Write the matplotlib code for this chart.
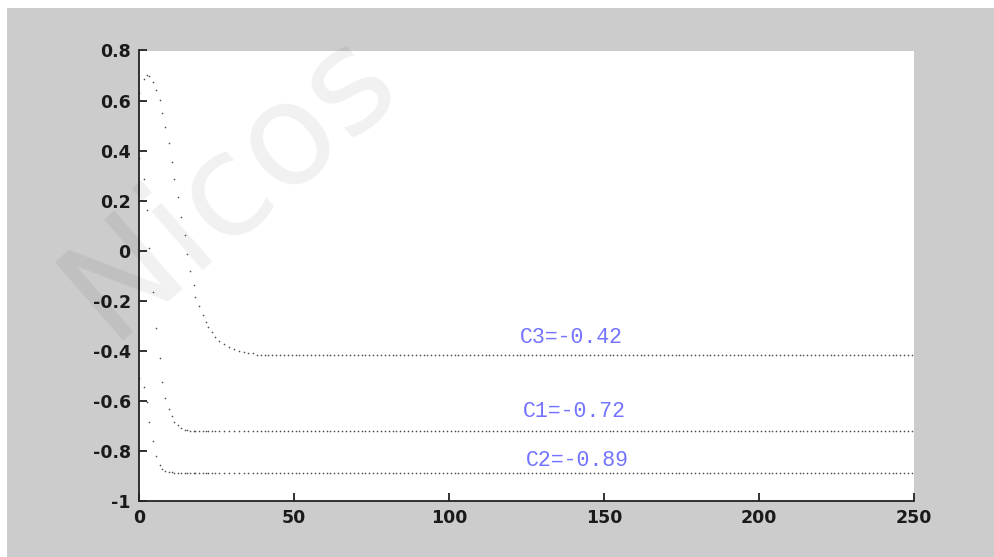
import numpy as np
import matplotlib
matplotlib.use("Agg")
import matplotlib.pyplot as plt
from matplotlib.patches import Rectangle

# time grid of the transient part
t_early = [0, 1.5, 2.7, 3.3, 4.4, 5.6, 6.8, 7.3, 8.5, 9.7, 10.7, 11.3, 12.5,
           13.5, 14.8, 15.4, 16.5, 17.7, 18.2, 19.4, 20.6, 21.7, 22.3, 23.5,
           24.6, 25.8, 27.4, 29.0, 30.6, 32.3, 33.9, 35.3, 36.7]

c3_early = [0.63, 0.687, 0.704, 0.697, 0.676, 0.644, 0.603, 0.551, 0.493,
            0.430, 0.355, 0.287, 0.214, 0.136, 0.063, -0.013, -0.080, -0.138,
            -0.185, -0.222, -0.259, -0.286, -0.307, -0.327, -0.346, -0.360,
            -0.375, -0.387, -0.395, -0.402, -0.407, -0.409, -0.410]

c1_early = [0.37, 0.287, 0.161, 0.010, -0.164, -0.311, -0.431, -0.525, -0.589,
            -0.632, -0.663, -0.684, -0.699, -0.711, -0.716, -0.717, -0.720,
            -0.722, -0.722, -0.722, -0.722, -0.722, -0.722, -0.722, -0.722,
            -0.722, -0.722, -0.722, -0.722, -0.722, -0.722, -0.722, -0.722]

c2_early = [-0.511, -0.547, -0.605, -0.684, -0.762, -0.821, -0.857, -0.873,
            -0.881, -0.885, -0.886, -0.889, -0.889, -0.889, -0.889, -0.889,
            -0.889, -0.889, -0.889, -0.889, -0.889, -0.889, -0.889, -0.889,
            -0.889, -0.889, -0.889, -0.889, -0.889, -0.889, -0.889, -0.889,
            -0.889]

# steady values reached after the transient
steady = {"C1": -0.72, "C2": -0.89, "C3": -0.42}
steady_plot = {"C1": -0.7226, "C2": -0.889, "C3": -0.416}
label_pos = {"C3": (139.3, -0.349), "C1": (140.3, -0.642), "C2": (141.2, -0.838)}

x_ticks = [0, 50, 100, 150, 200, 250]
y_ticks = [0.8, 0.6, 0.4, 0.2, 0, -0.2, -0.4, -0.6, -0.8, -1]
y_tick_labels = ["0.8", "0.6", "0.4", "0.2", "0", "-0.2", "-0.4", "-0.6", "-0.8", "-1"]

t_tail = np.arange(38.0, 250.01, 1.25)

W, H = 995, 557
fig = plt.figure(figsize=(W / 100, H / 100), dpi=100)
fig.patch.set_facecolor("white")
fig.patches.append(Rectangle((7 / W, 0), 1 - 7 / W, 1 - 8 / H,
                             transform=fig.transFigure, facecolor="#cccccc",
                             edgecolor="none", zorder=-10))

ax = fig.add_axes([139 / W, 1 - 500.7 / H, (914.3 - 139) / W, (500.7 - 50.5) / H])
ax.set_facecolor("white")

curves = {"C3": c3_early, "C1": c1_early, "C2": c2_early}
for name, early in curves.items():
    t = np.concatenate([t_early, t_tail])
    y = np.concatenate([early, np.full(len(t_tail), steady_plot[name])])
    ax.plot(t, y, linestyle="none", marker="o", markersize=1.2,
            markeredgewidth=0, color="#505050", clip_on=False)
    lx, ly = label_pos[name]
    ax.text(lx, ly, f"{name}={steady[name]:.2f}", ha="center", va="center",
            family="Liberation Mono", fontsize=15.5, color="#7373ff")

ax.set_xlim(0, 250)
ax.set_ylim(-1, 0.8)
ax.set_xticks(x_ticks)
ax.set_yticks(y_ticks)
ax.set_yticklabels(y_tick_labels)
for s in ["top", "right"]:
    ax.spines[s].set_visible(False)
for s in ["left", "bottom"]:
    ax.spines[s].set_linewidth(1.3)
    ax.spines[s].set_color("#222222")
ax.tick_params(direction="in", length=5.5, width=1.3, color="#222222",
               labelsize=12.5, pad=6, labelcolor="#1a1a1a")
for lab in ax.get_xticklabels() + ax.get_yticklabels():
    lab.set_fontweight("bold")
    lab.set_family("DejaVu Sans")

# watermark
fig.text(230 / W, 1 - 184 / H, "Nicos", fontsize=103, fontweight="normal",
         family="DejaVu Sans", rotation=41, ha="center", va="center",
         color="black", alpha=0.06, zorder=100)

fig.savefig("out.png", dpi=100, facecolor=fig.get_facecolor())
